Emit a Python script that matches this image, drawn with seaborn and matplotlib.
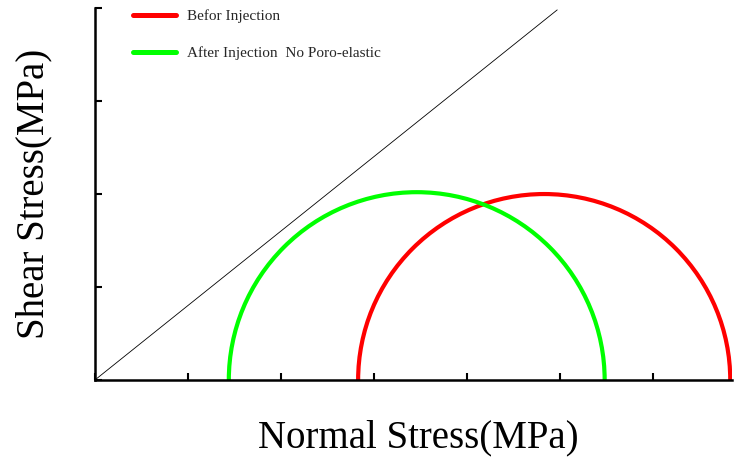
import matplotlib
matplotlib.use("Agg")
import matplotlib.pyplot as plt
from matplotlib.patches import Arc
import seaborn as sns
import pandas as pd

# Mohr circles: principal stresses (MPa)
labels = ["Befor Injection", "After Injection  No Poro-elastic"]
sigma3 = [28.3, 14.4]
sigma1 = [68.3, 54.8]
colors = ["#ff0000", "#00ff00"]

# Failure envelope end points
env_sigma = [0.0, 49.7]
env_tau = [0.0, 39.8]

x_ticks = [0, 10, 20, 30, 40, 50, 60]
y_ticks = [0, 10, 20, 30, 40]

sns.set_theme(style="white")
plt.rcParams["font.family"] = ["Liberation Serif", "DejaVu Serif"]

fig = plt.figure(figsize=(7.41, 4.59), dpi=100)
ax = fig.add_axes([0.128, 0.172, 0.860, 0.8105])

env = pd.DataFrame({"sigma": env_sigma, "tau": env_tau})
sns.lineplot(data=env, x="sigma", y="tau", color="black", linewidth=0.6, ax=ax, sort=False)

for s3, s1, c, lab in zip(sigma3, sigma1, colors, labels):
    center = (s1 + s3) / 2.0
    diam = s1 - s3
    ax.add_patch(Arc((center, 0), diam, diam, theta1=0, theta2=180, color=c, linewidth=3.0))
    ax.plot([], [], color=c, linewidth=3.6, label=lab)

ax.set_xlim(0, 68.5)
ax.set_ylim(0, 40)
ax.set_xticks(x_ticks)
ax.set_yticks(y_ticks)
ax.set_xticklabels([])
ax.set_yticklabels([])
ax.tick_params(direction="in", length=5, width=1.5, color="black", bottom=True, left=True)

for side in ["top", "right"]:
    ax.spines[side].set_visible(False)
for side in ["left", "bottom"]:
    ax.spines[side].set_color("black")
    ax.spines[side].set_linewidth(1.8)

ax.set_xlabel("Normal Stress(MPa)", fontsize=28, labelpad=25, color="black")
ax.xaxis.label.set_x(0.508)
ax.set_ylabel("Shear Stress(MPa)", fontsize=28, labelpad=27, color="black")

leg = ax.legend(loc="upper left", bbox_to_anchor=(0.038, 1.034), frameon=False,
                fontsize=11, handlelength=2.8, handletextpad=0.72, labelspacing=1.55)

fig.savefig("out.png", dpi=100)
